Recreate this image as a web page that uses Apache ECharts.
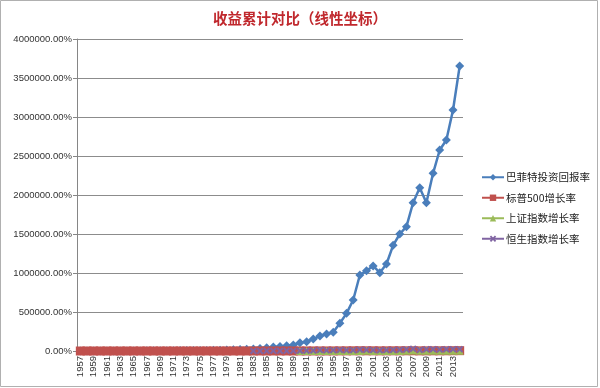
<!DOCTYPE html>
<html>
<head>
<meta charset="utf-8">
<script src="https://cdn.jsdelivr.net/npm/echarts@6/dist/echarts.min.js"></script>
<style>
html,body{margin:0;padding:0;background:#fff;}
#c{width:600px;height:388px;}
</style>
</head>
<body>
<div id="c"></div>
<script>
var years = [];
for (var y = 1957; y <= 2014; y++) years.push(String(y));

var buffett = [10,56,96,140,251,300,454,609,943,1156,1607,2610,3049,3400,4010,4900,5130,5420,6630,7800,
  9100,10500,12800,15200,18500,22000,27000,33000,42000,50000,57000,66000,77000,106000,119000,154000,
  192000,218000,240000,355000,483000,654000,974000,1030000,1090000,1004000,1115000,1355000,1500000,
  1594000,1901000,2094000,1901000,2278000,2577000,2705000,3089000,3653000];

var sp500 = [-14,18,28,25,53,35,61,82,98,72,107,123,97,97,119,153,109,47,93,130,104,106,131,191,163,201,
  253,258,353,419,429,495,657,608,794,834,899,884,1220,1487,1979,2534,3048,2729,2360,1785,2283,2497,
  2575,2939,3046,1835,2289,2595,2595,2956,3860,4312];

var shanghai = [null,null,null,null,null,null,null,null,null,null,null,null,null,null,null,null,null,null,
  null,null,null,null,null,null,null,null,null,null,null,null,null,null,null,
  28,193,680,734,548,455,817,1094,1047,1267,1973,1546,1258,1397,1167,1061,2575,5162,1721,3177,2708,
  2099,2169,2016,3135];

var hangseng = [null,null,null,null,null,null,null,null,null,null,null,null,null,null,null,null,null,null,
  null,null,null,null,null,null,null,null,
  775,1100,1652,2468,2203,2587,2737,2925,4197,5412,11788,8091,9973,13351,10623,9949,16862,14996,11297,
  9221,12476,14130,14776,19865,27713,14287,21773,22935,18334,22557,23206,23505];

var seriesNames = ['巴菲特投资回报率','标普500增长率','上证指数增长率','恒生指数增长率'];

var chart = echarts.init(document.getElementById('c'));
var xPath = 'path://M2,0L5,3L8,0L10,2L7,5L10,8L8,10L5,7L2,10L0,8L3,5L0,2Z';

chart.setOption({
  animation: false,
  backgroundColor: '#fff',
  title: {
    text: '收益累计对比（线性坐标）',
    left: 'center',
    top: 6,
    textStyle: {fontSize: 14.5, fontWeight: 'bold', color: '#C0282D', fontFamily: 'Noto Sans CJK SC'}
  },
  graphic: [{
    type: 'rect', silent: true,
    shape: {x: 0.5, y: 0.5, width: 597, height: 386},
    style: {fill: 'none', stroke: '#b0b0b0', lineWidth: 1}
  }],
  legend: {
    orient: 'vertical',
    left: 476,
    top: 167,
    itemWidth: 22,
    itemHeight: 8,
    itemGap: 10,
    textStyle: {fontSize: 10.5, color: '#222', fontFamily: 'Noto Sans CJK SC', padding: [0, 0, 0, -3]},
    data: seriesNames
  },
  grid: {left: 77, right: 137, top: 39, bottom: 37},
  xAxis: {
    type: 'category',
    data: years,
    boundaryGap: true,
    axisLine: {lineStyle: {color: '#868686'}},
    axisTick: {show: false},
    axisLabel: {interval: 1, rotate: 90, fontSize: 9.5, color: '#333', fontFamily: 'Liberation Sans', margin: 5}
  },
  yAxis: {
    type: 'value',
    min: 0, max: 4000000, interval: 500000,
    axisLine: {show: true, lineStyle: {color: '#868686'}},
    axisTick: {show: true, length: 4, lineStyle: {color: '#868686'}},
    splitLine: {lineStyle: {color: '#8c8c8c'}},
    axisLabel: {
      fontSize: 9.5, color: '#333', fontFamily: 'Liberation Sans', margin: 5,
      formatter: function (v) { return v.toFixed(2) + '%'; }
    }
  },
  series: [
    {name: seriesNames[0], type: 'line', data: buffett, symbol: 'diamond', symbolSize: 9,
     showAllSymbol: true, color: '#4A7EBB', lineStyle: {width: 2.5}},
    {name: seriesNames[1], type: 'line', data: sp500, symbol: 'rect', symbolSize: 9,
     showAllSymbol: true, color: '#C0504D', lineStyle: {width: 2.5}},
    {name: seriesNames[2], type: 'line', data: shanghai, symbol: 'triangle', symbolSize: 8,
     showAllSymbol: true, color: '#9BBB59', lineStyle: {width: 2.5}},
    {name: seriesNames[3], type: 'line', data: hangseng, symbol: xPath, symbolSize: 7,
     showAllSymbol: true, color: '#8064A2', lineStyle: {width: 2.5}}
  ]
});
</script>
</body>
</html>
